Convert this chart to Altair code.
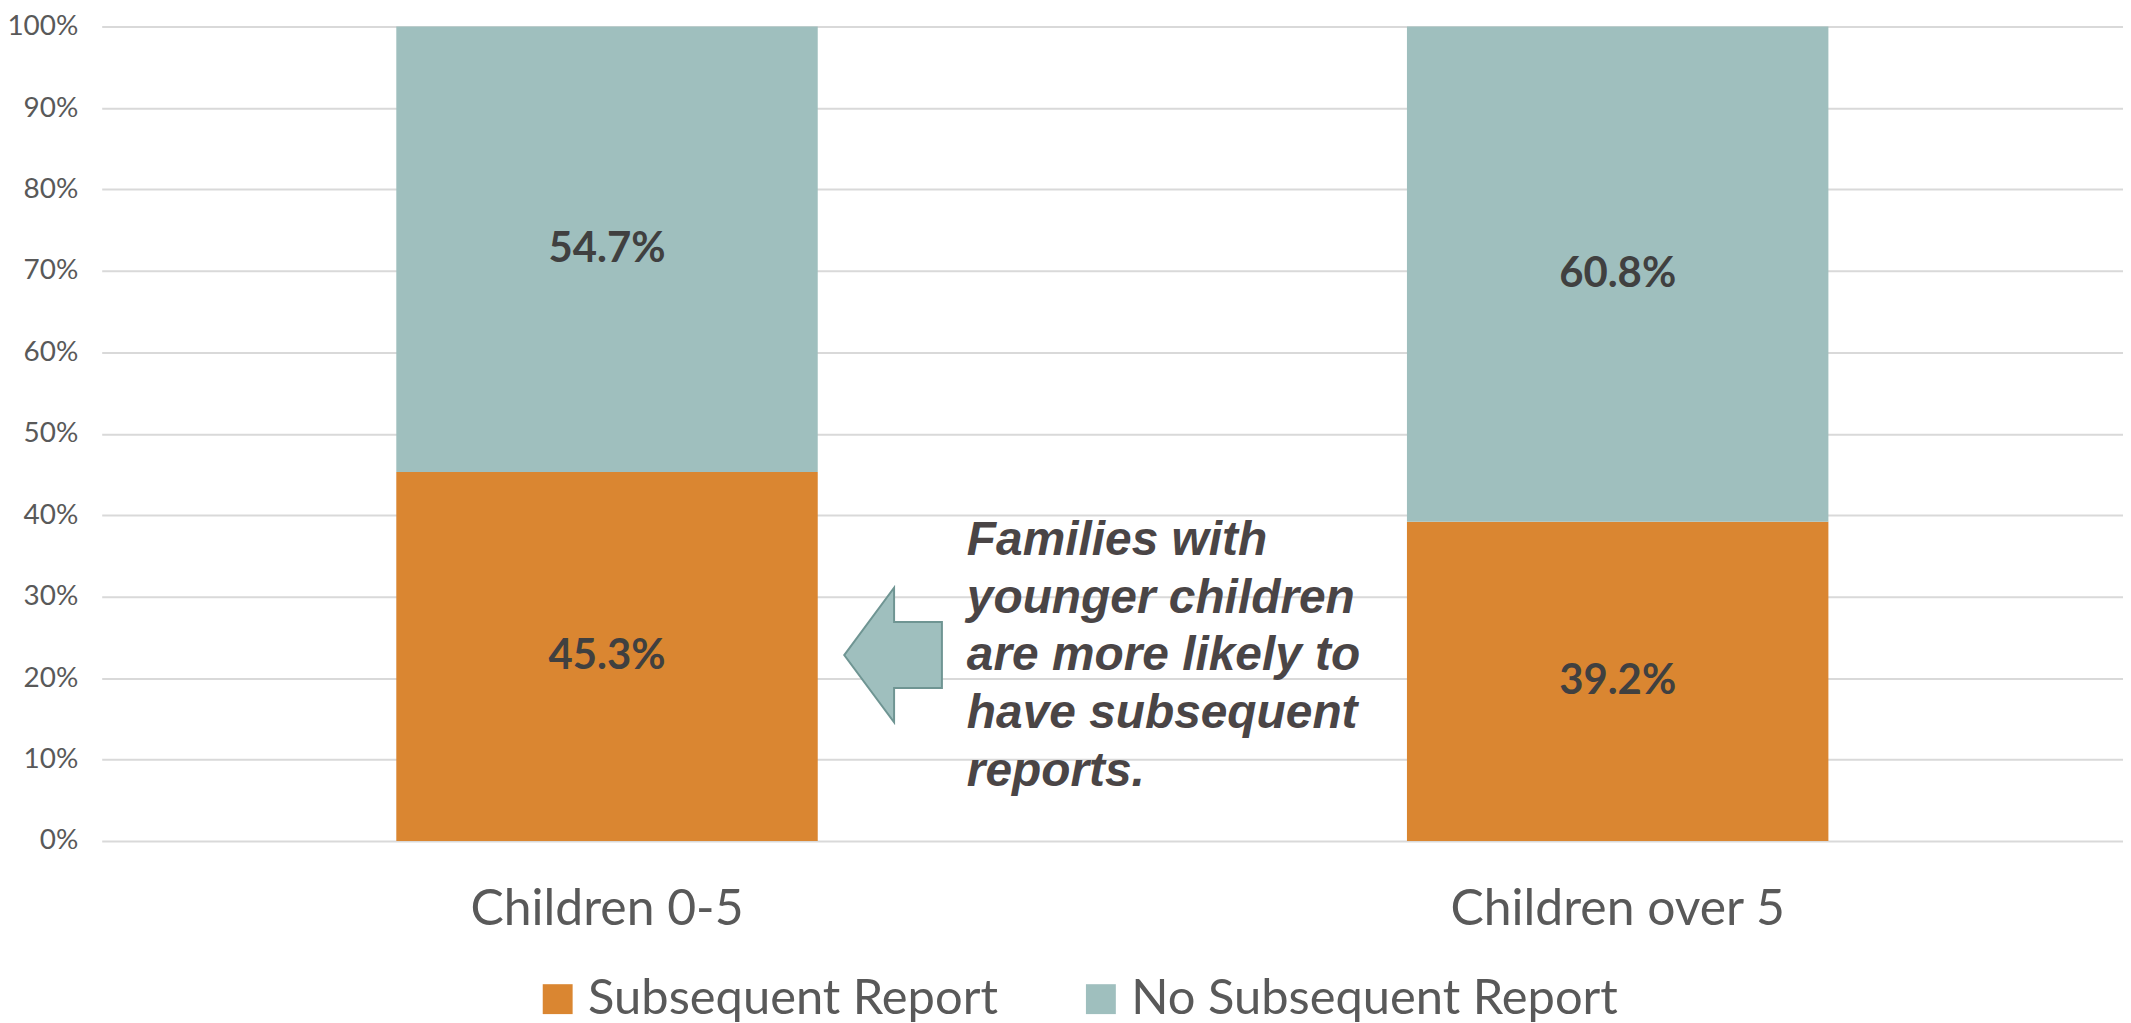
import altair as alt
import pandas as pd

categories = ["Children 0-5", "Children over 5"]
series = ["Subsequent Report", "No Subsequent Report"]
subsequent = [45.3, 39.2]
no_subsequent = [54.7, 60.8]
y_ticks = [0, 10, 20, 30, 40, 50, 60, 70, 80, 90, 100]
note_lines = ["Families with", "younger children", "are more likely to", "have subsequent", "reports."]

colors = ["#DA8631", "#9FBFBE"]

rows = []
for i, c in enumerate(categories):
    rows.append({"cat": c, "series": series[0], "value": subsequent[i], "ord": 0})
    rows.append({"cat": c, "series": series[1], "value": no_subsequent[i], "ord": 1})
df = pd.DataFrame(rows)

xenc = alt.X(
    "cat:N",
    sort=categories,
    title=None,
    scale=alt.Scale(paddingInner=0.583, paddingOuter=0.2915),
    axis=alt.Axis(labelAngle=0, domain=False, ticks=False, grid=False,
                  labelFont="Lato", labelFontSize=50, labelColor="#595959",
                  labelPadding=44, labelLimit=1000),
)

bars = alt.Chart(df).mark_bar().encode(
    x=xenc,
    y=alt.Y("value:Q", stack="zero", title=None,
            scale=alt.Scale(domain=[0, 100], nice=False),
            axis=alt.Axis(values=y_ticks, labelExpr="datum.value + '%'",
                          domain=False, ticks=False, grid=True,
                          gridColor="#D9D9D9", gridWidth=2,
                          labelFont="Lato", labelFontSize=28, labelColor="#595959",
                          labelPadding=24)),
    color=alt.Color("series:N",
                    scale=alt.Scale(domain=series, range=colors),
                    legend=alt.Legend(title=None, orient="none", legendX=433, legendY=951,
                                      direction="horizontal", symbolType="square",
                                      symbolSize=900, symbolStrokeWidth=0,
                                      labelFont="Lato", labelFontSize=49,
                                      labelColor="#595959", labelLimit=1000,
                                      labelOffset=6, columnPadding=78)),
    order=alt.Order("ord:Q", sort="ascending"),
)

labels = alt.Chart(df).transform_stack(
    stack="value", groupby=["cat"], as_=["y0", "y1"],
    sort=[alt.SortField("ord", order="ascending")],
).transform_calculate(
    mid="(datum.y0 + datum.y1) / 2",
    lbl="format(datum.value, '.1f') + '%'",
).mark_text(font="Lato", fontSize=42, fontWeight="bold", color="#404040",
            baseline="middle", align="center").encode(
    x=alt.X("cat:N", sort=categories),
    y=alt.Y("mid:Q"),
    text="lbl:N",
)

arrow_path = "M -0.726 0 L 0.015 -1 L 0.015 -0.49 L 0.726 -0.49 L 0.726 0.49 L 0.015 0.49 L 0.015 1 Z"
anno_df = pd.DataFrame({"k": [0]})
arrow = alt.Chart(anno_df).mark_point(
    shape=arrow_path, filled=True, fill="#9FBFBE", stroke="#6F9593",
    strokeWidth=2, size=18225, opacity=1, fillOpacity=1, strokeOpacity=1,
).encode(x=alt.value(794), y=alt.value(630.5))

note = alt.Chart(anno_df).mark_text(
    font="Liberation Sans", fontSize=48, fontWeight="bold", fontStyle="italic",
    color="#4A4546", align="left", baseline="alphabetic", lineHeight=58,
    lineBreak="\n",
).encode(x=alt.value(868), y=alt.value(530), text=alt.value("\n".join(note_lines)))

chart = alt.layer(bars, labels, arrow, note).properties(
    width=2028, height=817,
    padding={"left": 94, "top": 17, "right": 0, "bottom": 181},
    autosize=alt.AutoSizeParams(type="none"),
).configure_view(strokeWidth=0)

chart.save("out.html", embed_options={"renderer": "svg", "actions": False})
